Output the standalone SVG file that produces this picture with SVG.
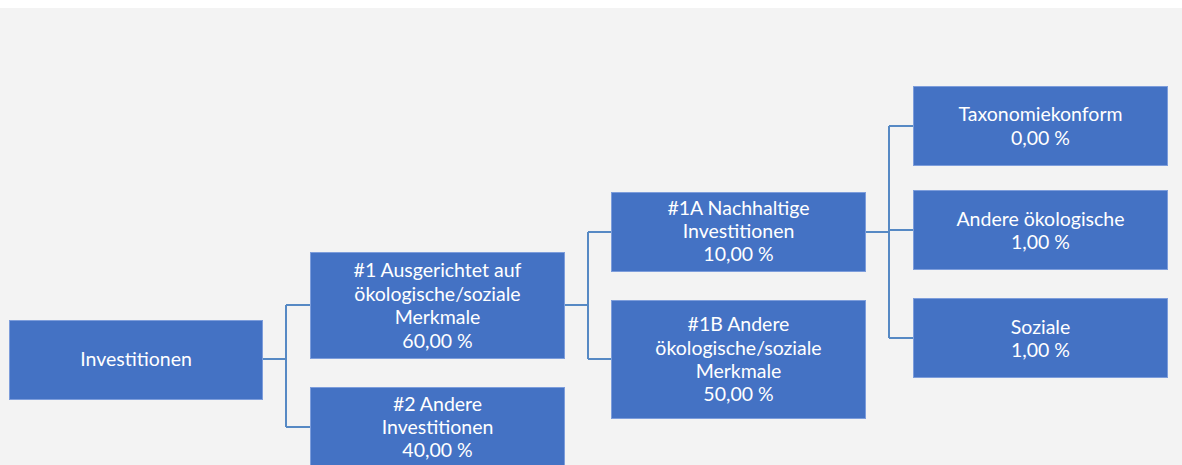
<svg xmlns="http://www.w3.org/2000/svg" width="1182" height="465" viewBox="0 0 1182 465">
<style>
.box{fill:#4472c4;stroke:#7d9ddb;stroke-width:1}
.t{font-family:Lato,"Liberation Sans",sans-serif;font-size:19.5px;fill:#ffffff;text-anchor:middle}
.c{fill:none;stroke:#5689c4;stroke-width:2}
</style>
<rect x="0" y="0" width="1182" height="465" fill="#ffffff"/>
<rect x="0" y="8" width="1182" height="457" fill="#f3f3f3"/>
<g id="connectors">
<path class="c" d="M262 359H286M286 305V427M286 305H310M286 427H310"/>
<path class="c" d="M564 305H588M588 232V359M588 232H611M588 359H611"/>
<path class="c" d="M865 232H889M889 126V338M889 126H913M889 230H913M889 338H913"/>
</g>
<g id="n0"><rect class="box" x="9.5" y="320.5" width="253" height="79"/><text class="t" x="136" y="366">Investitionen</text></g>
<g id="n1"><rect class="box" x="310.5" y="252.5" width="254" height="106"/><text class="t" x="437.5"><tspan x="437.5" y="277">#1 Ausgerichtet auf</tspan><tspan x="437.5" y="300.5">ökologische/soziale</tspan><tspan x="437.5" y="324">Merkmale</tspan><tspan x="437.5" y="347.5">60,00 %</tspan></text></g>
<g id="n2"><rect class="box" x="310.5" y="387.5" width="254" height="90"/><text class="t" x="437.5"><tspan x="437.5" y="411">#2 Andere</tspan><tspan x="437.5" y="434">Investitionen</tspan><tspan x="437.5" y="457">40,00 %</tspan></text></g>
<g id="n1a"><rect class="box" x="611.5" y="192.5" width="254" height="79"/><text class="t"><tspan x="738.5" y="215">#1A Nachhaltige</tspan><tspan x="738.5" y="238">Investitionen</tspan><tspan x="738.5" y="261">10,00 %</tspan></text></g>
<g id="n1b"><rect class="box" x="611.5" y="300.5" width="254" height="118"/><text class="t"><tspan x="738.5" y="331">#1B Andere</tspan><tspan x="738.5" y="354.5">ökologische/soziale</tspan><tspan x="738.5" y="378">Merkmale</tspan><tspan x="738.5" y="401">50,00 %</tspan></text></g>
<g id="n_tax"><rect class="box" x="913.5" y="86.5" width="254" height="79"/><text class="t"><tspan x="1040.5" y="121">Taxonomiekonform</tspan><tspan x="1040.5" y="145">0,00 %</tspan></text></g>
<g id="n_oek"><rect class="box" x="913.5" y="190.5" width="254" height="79"/><text class="t"><tspan x="1040.5" y="226">Andere ökologische</tspan><tspan x="1040.5" y="249">1,00 %</tspan></text></g>
<g id="n_soz"><rect class="box" x="913.5" y="298.5" width="254" height="79"/><text class="t"><tspan x="1040.5" y="334">Soziale</tspan><tspan x="1040.5" y="357">1,00 %</tspan></text></g>
</svg>
